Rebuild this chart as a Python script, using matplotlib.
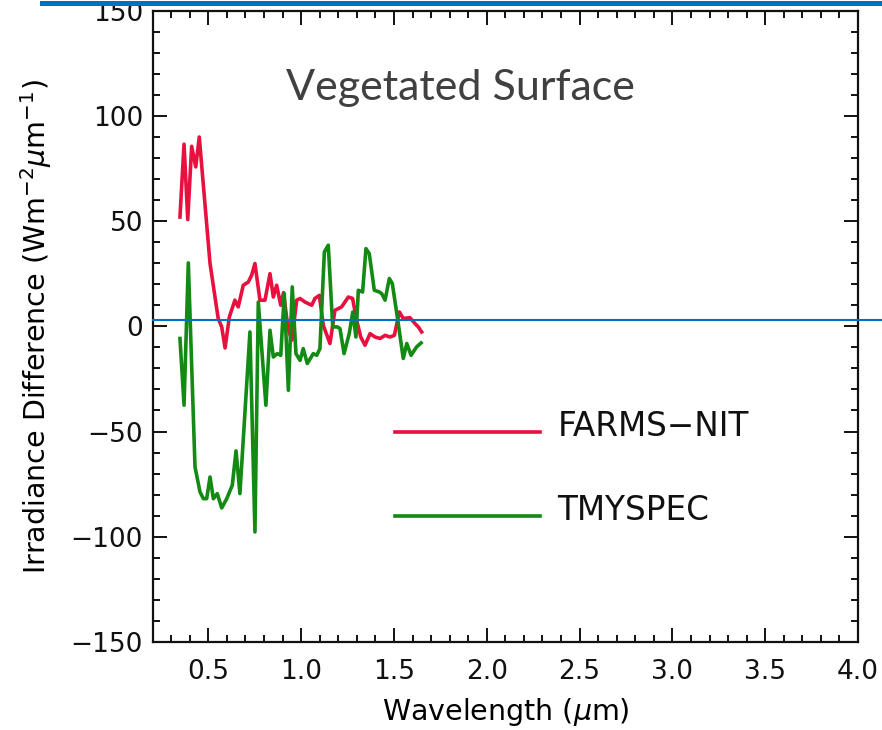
import matplotlib
matplotlib.use("Agg")
import matplotlib.pyplot as plt
from matplotlib.lines import Line2D
from matplotlib.ticker import MultipleLocator

plt.rcParams['font.family'] = ['DejaVu Sans']
plt.rcParams['mathtext.fontset'] = 'dejavusans'

# FARMS-NIT (red)
farms_wl = [0.347, 0.369, 0.389, 0.410, 0.432, 0.451, 0.509, 0.553, 0.572, 0.590,
            0.613, 0.643, 0.661, 0.688, 0.715, 0.733, 0.751, 0.778, 0.805, 0.832,
            0.850, 0.868, 0.890, 0.905, 0.929, 0.950, 0.976, 0.994, 1.021, 1.057,
            1.074, 1.098, 1.119, 1.155, 1.182, 1.218, 1.254, 1.277, 1.299, 1.321,
            1.344, 1.371, 1.398, 1.425, 1.452, 1.479, 1.502, 1.529, 1.550, 1.586,
            1.613, 1.631, 1.649]
farms_diff = [51.9, 86.5, 50.7, 85.5, 75.7, 89.9, 29.8, 3.7, -0.3, -10.3,
              4.4, 12.4, 9.2, 19.5, 21.0, 24.2, 29.8, 12.4, 12.4, 25.0,
              13.9, 19.5, 10.0, 16.0, -1.0, -6.6, 12.4, 13.2, 11.5, 10.0,
              13.2, 14.7, 0.5, -8.2, 7.6, 9.2, 13.9, 13.2, 2.9, -5.1,
              -9.0, -3.5, -5.1, -5.8, -4.3, -5.1, -4.3, 6.8, 3.7, 4.1,
              1.3, -0.3, -2.7]

# TMYSPEC (green)
tmy_wl = [0.347, 0.369, 0.392, 0.428, 0.455, 0.473, 0.491, 0.509, 0.527, 0.548,
          0.572, 0.599, 0.629, 0.649, 0.670, 0.724, 0.751, 0.769, 0.810, 0.832,
          0.850, 0.871, 0.890, 0.909, 0.931, 0.952, 0.972, 0.994, 1.011, 1.033,
          1.065, 1.084, 1.101, 1.125, 1.146, 1.170, 1.195, 1.209, 1.231, 1.259,
          1.278, 1.295, 1.308, 1.331, 1.349, 1.367, 1.394, 1.421, 1.434, 1.452,
          1.475, 1.491, 1.518, 1.550, 1.569, 1.592, 1.622, 1.646]
tmy_diff = [-5.8, -37.5, 30.1, -66.8, -78.7, -81.9, -81.9, -71.6, -81.9, -79.5,
            -86.3, -81.9, -75.5, -59.2, -79.5, -2.7, -97.7, 11.5, -37.5, -1.9,
            -14.6, -13.0, -13.8, 15.5, -30.4, 18.7, -13.0, -16.2, -10.6, -17.7,
            -13.0, -13.8, -10.6, 35.3, 38.5, -0.3, -0.3, -1.1, -13.0, -3.5,
            6.8, -5.1, 17.1, 16.3, 36.9, 34.5, 17.1, 16.3, 15.5, 12.4,
            22.7, 20.3, 4.4, -15.3, -8.2, -13.8, -9.8, -7.9]

series_names = ["FARMS\u2212NIT", "TMYSPEC"]
series_colors = ["#E8103E", "#138A13"]
legend_x = [1.505, 2.287]
legend_y = [-50.4, -90.3]
overlay_y = 2.9

fig = plt.figure(figsize=(8.82, 7.30), dpi=100)
ax = fig.add_axes([0.1731, 0.1205, 0.7997, 0.8651])

ax.plot(farms_wl, farms_diff, color=series_colors[0], lw=2.6, solid_joinstyle='round')
ax.plot(tmy_wl, tmy_diff, color=series_colors[1], lw=2.6, solid_joinstyle='round')

# in-plot legend
for i, name in enumerate(series_names):
    ax.plot(legend_x, [legend_y[i]] * 2, color=series_colors[i], lw=2.6)
    ax.text(2.38, legend_y[i] + 3, name, fontsize=23.5, va='center', ha='left', color='#111111')

ax.text(1.86, 113, "Vegetated Surface", fontsize=31, family=['Lato', 'DejaVu Sans'],
        color='#404040', ha='center', va='center')

ax.set_xlim(0.2, 4.0)
ax.set_ylim(-150, 150)
ax.xaxis.set_major_locator(MultipleLocator(0.5))
ax.xaxis.set_minor_locator(MultipleLocator(0.1))
ax.yaxis.set_major_locator(MultipleLocator(50))
ax.yaxis.set_minor_locator(MultipleLocator(10))
ax.set_xticks([0.5, 1.0, 1.5, 2.0, 2.5, 3.0, 3.5, 4.0])
ax.set_xticklabels(["0.5", "1.0", "1.5", "2.0", "2.5", "3.0", "3.5", "4.0"])
ax.tick_params(which='both', direction='in', top=True, right=True, width=1.4, labelsize=19,
               colors='#111111')
ax.tick_params(which='major', length=10)
ax.tick_params(which='minor', length=5)
ax.tick_params(axis='x', which='major', pad=12)
ax.tick_params(axis='y', which='major', pad=7)
for s in ax.spines.values():
    s.set_linewidth(1.6)
    s.set_color('#111111')

ax.set_xlabel("Wavelength ($\\mu$m)", fontsize=20.5, labelpad=8)
ax.set_ylabel("Irradiance Difference (Wm$^{-2}\\mu$m$^{-1}$)", fontsize=20.5, labelpad=12)

# blue overlay lines
ax.axhline(overlay_y, xmin=0, xmax=1.035, color='#0070C0', lw=1.5, clip_on=False, zorder=5)
fig.add_artist(Line2D([42 / 882, 1.0], [1 - 2.5 / 730, 1 - 2.5 / 730], color='#0070C0', lw=3.6))

fig.savefig("out.png", dpi=100)
